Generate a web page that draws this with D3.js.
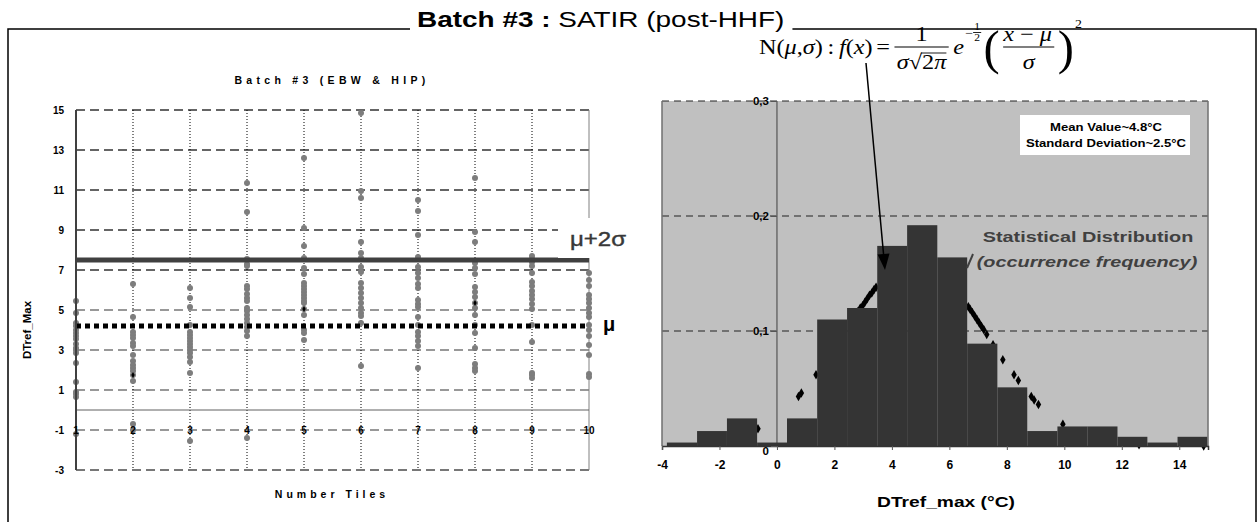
<!DOCTYPE html>
<html>
<head>
<meta charset="utf-8">
<script src="https://cdn.jsdelivr.net/npm/d3@7"></script>
<style>
  body { margin: 0; background: #fff; }
  svg { display: block; font-family: "Liberation Sans", Arial, sans-serif; }
</style>
</head>
<body>
<div class="main-container"></div>
<script>
const width = 1260, height = 522;

// left chart : DTref_Max read per tile
const tiles = [1, 2, 3, 4, 5, 6, 7, 8, 9, 10];
const tileValues = [
  [5.45, 4.85, 4.35, 4.2, 4.0, 3.85, 3.7, 3.55, 3.3, 3.1, 3.0, 2.85, 2.35, 1.4, 0.9, 0.8, 0.65, -1.2],
  [6.3, 4.65, 3.9, 3.75, 3.6, 3.35, 3.2, 2.75, 2.45, 2.25, 2.1, 1.95, 1.75, 1.45, -0.7, -1.0],
  [6.1, 5.6, 5.15, 4.25, 3.9, 3.75, 3.6, 3.45, 3.3, 3.15, 3.0, 2.85, 2.65, 2.4, 1.85, -1.55],
  [11.35, 9.9, 7.55, 7.3, 7.2, 6.2, 6.05, 5.8, 5.6, 5.45, 5.1, 4.95, 4.75, 4.55, 4.35, 4.15, 3.95, 3.7, -1.4],
  [12.6, 9.1, 8.2, 7.6, 7.1, 6.8, 6.35, 6.2, 6.05, 5.9, 5.75, 5.6, 5.45, 5.35, 5.05, 4.75, 4.0, 3.85, 3.5],
  [14.85, 10.95, 10.6, 8.4, 7.85, 7.6, 7.15, 6.9, 6.35, 6.1, 5.85, 5.6, 5.35, 5.1, 4.85, 4.7, 4.35, 2.2],
  [10.5, 9.95, 8.75, 7.65, 7.15, 6.85, 6.6, 6.3, 6.1, 5.5, 5.3, 5.15, 4.65, 4.25, 3.9, 3.7, 3.45, 3.2, 2.1],
  [11.6, 8.9, 8.4, 7.35, 7.1, 6.8, 6.15, 5.9, 5.65, 5.35, 5.1, 4.75, 4.25, 3.85, 3.1, 2.3, 2.1, 1.95],
  [7.7, 7.55, 7.4, 7.2, 6.85, 6.4, 6.2, 5.95, 5.75, 5.55, 5.3, 5.05, 4.25, 3.4, 1.85, 1.75, 1.6],
  [6.85, 6.5, 6.2, 5.75, 5.55, 5.35, 5.1, 4.85, 4.65, 4.25, 4.0, 3.7, 3.25, 2.75, 1.8, 1.65]
];
// a few darker marks sitting on top of the grey ones
const darkTiles = [2, 5, 8];
const darkValues = [1.75, 5.05, 5.35];
const leftYTicks = [-3, -1, 1, 3, 5, 7, 9, 11, 13, 15];
const meanValue = 4.2, upperValue = 7.5;

// right chart : histogram + normal fit
const binEdges = [-3.83, -2.78, -1.74, -0.69, 0.35, 1.40, 2.44, 3.49, 4.53, 5.58, 6.62,
                  7.67, 8.71, 9.76, 10.80, 11.85, 12.89, 13.94, 14.98];
const binFreq = [0.003, 0.013, 0.024, 0.003, 0.024, 0.110, 0.120, 0.174, 0.192, 0.164,
                 0.089, 0.051, 0.013, 0.017, 0.017, 0.008, 0.003, 0.008];
const fitX = [-0.66, 0.75, 0.85, 1.36, 2.3, 2.82, 2.9, 2.98, 3.06, 3.14, 3.22, 3.3, 3.38, 3.45,
              6.66, 6.72, 6.8, 6.88, 6.96, 7.04, 7.12, 7.2, 7.3, 7.52, 7.86, 8.25, 8.4,
              8.85, 8.95, 9.1, 9.95, 12.6, 14.85];
const fitY = [0.015, 0.043, 0.046, 0.062, 0.096, 0.117, 0.120, 0.122, 0.125, 0.128, 0.131, 0.133, 0.136, 0.138,
              0.121, 0.119, 0.116, 0.113, 0.110, 0.107, 0.104, 0.101, 0.097, 0.088, 0.075, 0.062, 0.057,
              0.043, 0.040, 0.036, 0.019, 0.001, 0.0];
const rightXTicks = [-4, -2, 0, 2, 4, 6, 8, 10, 12, 14];
const rightYTicks = [0, 0.1, 0.2, 0.3];

const svg = d3.select(".main-container")
  .append("svg")
  .attr("width", width)
  .attr("height", height);

// the source picture is stretched sideways, so text is widened to match
function stretch(sel, k) {
  const w = sel.node().getComputedTextLength();
  sel.attr("textLength", w * k).attr("lengthAdjust", "spacingAndGlyphs");
  return sel;
}

// ---------- page title + frame ----------
const title = svg.append("text")
  .attr("x", 417)
  .attr("y", 27)
  .attr("font-size", 22)
  .attr("fill", "#000");
title.append("tspan").attr("font-weight", "bold").text("Batch #3 :");
title.append("tspan").text(" SATIR (post-HHF)");
stretch(title, 1.27);
const titleEnd = 417 + title.node().getComputedTextLength();

const frame = svg.append("g").attr("stroke", "#000").attr("stroke-width", 1.5).attr("fill", "none");
frame.append("path").attr("d", `M8,${height}V29H410`);
frame.append("path").attr("d", `M${titleEnd + 8},29H1256V${height}`);

// ---------- left chart ----------
const xL = d3.scaleLinear().domain([1, 10]).range([76, 589]);
const yL = d3.scaleLinear().domain([-3, 15]).range([470, 110]);
const left = svg.append("g");

left.append("text")
  .attr("x", 332).attr("y", 84)
  .attr("text-anchor", "middle")
  .attr("font-size", 10.5).attr("font-weight", "bold")
  .attr("letter-spacing", 4.3)
  .text("Batch #3 (EBW & HIP)");

left.selectAll(".hgrid")
  .data(leftYTicks)
  .join("line")
  .attr("x1", xL(1)).attr("x2", xL(10))
  .attr("y1", d => yL(d)).attr("y2", d => yL(d))
  .attr("stroke", d => d >= 7 ? "#333" : "#777")
  .attr("stroke-width", d => d === -3 ? 2 : 1.3)
  .attr("stroke-dasharray", "9,5");

left.selectAll(".vgrid")
  .data(tiles.slice(1, 9))
  .join("line")
  .attr("x1", d => xL(d)).attr("x2", d => xL(d))
  .attr("y1", yL(15)).attr("y2", yL(-3))
  .attr("stroke", "#000")
  .attr("stroke-dasharray", "1,2");

left.append("line")
  .attr("x1", xL(10)).attr("x2", xL(10))
  .attr("y1", yL(15)).attr("y2", yL(-3))
  .attr("stroke", "#808080");

left.append("line")
  .attr("x1", xL(1)).attr("x2", xL(10))
  .attr("y1", yL(0)).attr("y2", yL(0))
  .attr("stroke", "#606060");

const pts = tileValues.flatMap((vals, i) => vals.map(v => ({tile: tiles[i], v})));
left.selectAll(".pt")
  .data(pts)
  .join("circle")
  .attr("cx", d => xL(d.tile))
  .attr("cy", d => yL(d.v))
  .attr("r", 3)
  .attr("fill", "#7d7d7d");

left.selectAll(".dark")
  .data(darkTiles.map((t, i) => ({tile: t, v: darkValues[i]})))
  .join("path")
  .attr("d", d3.symbol(d3.symbolDiamond, 10))
  .attr("transform", d => `translate(${xL(d.tile)},${yL(d.v)})`)
  .attr("fill", "#000");

left.append("line")
  .attr("x1", xL(1)).attr("x2", xL(10))
  .attr("y1", yL(upperValue)).attr("y2", yL(upperValue))
  .attr("stroke", "#404040")
  .attr("stroke-width", 5);

left.append("line")
  .attr("x1", xL(1)).attr("x2", xL(10))
  .attr("y1", yL(meanValue)).attr("y2", yL(meanValue))
  .attr("stroke", "#000")
  .attr("stroke-width", 5)
  .attr("stroke-dasharray", "5,4");

left.append("line")
  .attr("x1", xL(1)).attr("x2", xL(1))
  .attr("y1", yL(15)).attr("y2", yL(-3))
  .attr("stroke", "#404040")
  .attr("stroke-width", 2);

left.selectAll(".ylab")
  .data(leftYTicks)
  .join("text")
  .attr("x", 64)
  .attr("y", d => yL(d))
  .attr("dy", "0.35em")
  .attr("text-anchor", "end")
  .attr("font-size", 10).attr("font-weight", "bold")
  .text(d => d);

left.selectAll(".xlab")
  .data(tiles)
  .join("text")
  .attr("x", d => xL(d))
  .attr("y", yL(-1))
  .attr("dy", "0.35em")
  .attr("text-anchor", "middle")
  .attr("font-size", 10).attr("font-weight", "bold")
  .text(d => d);

left.append("text")
  .attr("transform", `translate(31,${yL(4)}) rotate(-90)`)
  .attr("text-anchor", "middle")
  .attr("font-size", 11.5).attr("font-weight", "bold")
  .text("DTref_Max");

left.append("text")
  .attr("x", 332).attr("y", 498)
  .attr("text-anchor", "middle")
  .attr("font-size", 10.5).attr("font-weight", "bold")
  .attr("letter-spacing", 4)
  .text("Number Tiles");

// labels on the right side of the scatter
left.append("rect")
  .attr("x", 558).attr("y", yL(9.6))
  .attr("width", 72).attr("height", 40)
  .attr("fill", "#fff");
stretch(left.append("text")
  .attr("x", 570).attr("y", yL(8.2))
  .attr("font-size", 20).attr("fill", "#383838")
  .attr("stroke", "#383838").attr("stroke-width", 0.4)
  .text("μ+2σ"), 1.2);
left.append("text")
  .attr("x", 603).attr("y", yL(meanValue) + 5)
  .attr("font-size", 20).attr("font-weight", "bold")
  .text("μ");

// ---------- right chart ----------
const xR = d3.scaleLinear().domain([-4, 15]).range([662, 1208]);
const yR = d3.scaleLinear().domain([0, 0.3]).range([446, 101]);
const right = svg.append("g");
const fmt = d => d === 0 ? "0" : d3.format(".1f")(d).replace(".", ",");

right.append("rect")
  .attr("x", xR(-4)).attr("y", yR(0.3))
  .attr("width", xR(15) - xR(-4)).attr("height", yR(0) - yR(0.3))
  .attr("fill", "#c0c0c0");

right.selectAll(".hgrid")
  .data(rightYTicks.slice(1))
  .join("line")
  .attr("x1", xR(-4)).attr("x2", xR(15))
  .attr("y1", d => yR(d)).attr("y2", d => yR(d))
  .attr("stroke", "#222")
  .attr("stroke-dasharray", "7,5");

right.append("line")
  .attr("x1", xR(0)).attr("x2", xR(0))
  .attr("y1", yR(0.3)).attr("y2", yR(0))
  .attr("stroke", "#6a6a6a")
  .attr("stroke-width", 1.5);

right.selectAll(".fit")
  .data(fitX.map((x, i) => ({x, y: fitY[i]})))
  .join("path")
  .attr("d", d3.symbol(d3.symbolDiamond, 26))
  .attr("transform", d => `translate(${xR(d.x)},${yR(d.y)})`)
  .attr("fill", "#000");

right.selectAll(".bar")
  .data(binFreq.map((f, i) => ({x0: binEdges[i], x1: binEdges[i + 1], f})))
  .join("rect")
  .attr("x", d => xR(d.x0))
  .attr("width", d => xR(d.x1) - xR(d.x0))
  .attr("y", d => yR(d.f))
  .attr("height", d => yR(0) - yR(d.f))
  .attr("fill", "#343434");

right.append("path")
  .attr("d", `M${xR(-4)},${yR(0)}V${yR(0.3)}M${xR(15)},${yR(0.3)}V${yR(0)}`)
  .attr("stroke", "#707070")
  .attr("stroke-width", 1.5)
  .attr("fill", "none");

// x axis
const xAxis = right.append("g")
  .attr("transform", `translate(0,${yR(0)})`)
  .call(d3.axisBottom(xR).tickValues(rightXTicks).tickSize(4).tickPadding(10).tickFormat(d => String(d)));
xAxis.select(".domain").attr("stroke", "#333").attr("stroke-width", 1.5);
xAxis.selectAll(".tick line").attr("stroke", "#555");
xAxis.selectAll(".tick text")
  .attr("font-size", 12).attr("font-weight", "bold")
  .attr("font-family", "'Liberation Sans', Arial, sans-serif")
  .attr("fill", "#000");

// y axis on the x = 0 line
const yAxis = right.append("g")
  .attr("transform", `translate(${xR(0)},0)`)
  .call(d3.axisLeft(yR).tickValues(rightYTicks).tickSize(6).tickPadding(2).tickFormat(fmt));
yAxis.select(".domain").remove();
yAxis.selectAll(".tick line").attr("stroke", "#555");
yAxis.selectAll(".tick text")
  .attr("font-size", 11.5).attr("font-weight", "bold")
  .attr("font-family", "'Liberation Sans', Arial, sans-serif")
  .attr("fill", "#000");
yAxis.selectAll(".tick").filter(d => d === 0).select("text").attr("dy", "0.75em");

stretch(right.append("text")
  .attr("x", 946).attr("y", 507)
  .attr("text-anchor", "middle")
  .attr("font-size", 15).attr("font-weight", "bold")
  .text("DTref_max (°C)"), 1.28);

// stats box
right.append("rect")
  .attr("x", 1020).attr("y", 115)
  .attr("width", 170).attr("height", 40)
  .attr("fill", "#fff");
stretch(right.append("text")
  .attr("x", 1106).attr("y", 131)
  .attr("text-anchor", "middle")
  .attr("font-size", 11.5).attr("font-weight", "bold")
  .text("Mean Value~4.8°C"), 1.14);
stretch(right.append("text")
  .attr("x", 1106).attr("y", 147)
  .attr("text-anchor", "middle")
  .attr("font-size", 11.5).attr("font-weight", "bold")
  .text("Standard Deviation~2.5°C"), 1.14);

// distribution label
stretch(right.append("text")
  .attr("x", 1088).attr("y", 242)
  .attr("text-anchor", "middle")
  .attr("font-size", 15.5).attr("font-weight", "bold")
  .attr("fill", "#404040")
  .text("Statistical Distribution"), 1.28);
stretch(right.append("text")
  .attr("x", 1087).attr("y", 267)
  .attr("text-anchor", "middle")
  .attr("font-size", 15.5).attr("font-weight", "bold").attr("font-style", "italic")
  .attr("fill", "#404040")
  .text("(occurrence frequency)"), 1.28);
right.append("line")
  .attr("x1", 973).attr("y1", 254)
  .attr("x2", 967).attr("y2", 268)
  .attr("stroke", "#404040").attr("stroke-width", 2);

// ---------- formula ----------
const fx0 = 759, fxEnd = 1082, fy = 54;
const fg = svg.append("g")
  .attr("font-family", "'Liberation Serif', 'Times New Roman', serif")
  .attr("font-size", 21)
  .attr("fill", "#000");

function seq(x, y, parts, size) {
  const t = fg.append("text").attr("x", x).attr("y", y);
  if (size) t.attr("font-size", size);
  parts.forEach(([s, it]) => t.append("tspan").attr("font-style", it ? "italic" : null).text(s));
  return t.node().getComputedTextLength();
}
function rule(x1, x2, y, w) {
  fg.append("line")
    .attr("x1", x1).attr("x2", x2)
    .attr("y1", y).attr("y2", y)
    .attr("stroke", "#000").attr("stroke-width", w || 1);
}

let cx = fx0;
cx += seq(cx, fy, [["N(", 0], ["μ", 1], [",", 0], ["σ", 1], [")", 0]]) + 4;
cx += seq(cx, fy, [[":", 0]]) + 4;
cx += seq(cx, fy, [["f", 1], ["(", 0], ["x", 1], [")", 0]]) + 3;
cx += seq(cx, fy, [["=", 0]]) + 4;

// 1 / (σ √2π)
const denW = seq(cx + 2, fy + 15, [["σ", 1], ["√", 0], ["2", 0], ["π", 1]]);
const sigTmp = fg.append("text").attr("font-style", "italic").text("σ√");
const sW = sigTmp.node().getComputedTextLength();
sigTmp.remove();
rule(cx + 2 + sW - 1, cx + 2 + denW, fy - 1, 0.9);
rule(cx, cx + denW + 4, fy - 7);
fg.append("text")
  .attr("x", cx + (denW + 4) / 2).attr("y", fy - 13)
  .attr("text-anchor", "middle").text("1");
cx += denW + 8;

// e^{-1/2 (...)^2}
cx += seq(cx, fy, [["e", 1]]) + 1;
cx += seq(cx, fy - 17, [["−", 0]], 12);
fg.append("text").attr("x", cx + 3.5).attr("y", fy - 24).attr("font-size", 10).attr("text-anchor", "middle").text("1");
rule(cx, cx + 7, fy - 21.5, 0.8);
fg.append("text").attr("x", cx + 3.5).attr("y", fy - 13).attr("font-size", 10).attr("text-anchor", "middle").text("2");
cx += 9;

const bigParen = (s, x) => fg.append("text")
  .attr("transform", `translate(${x},${fy + 10}) scale(1,1.15)`)
  .attr("font-size", 42)
  .text(s);
cx += bigParen("(", cx).node().getComputedTextLength() + 3;
const numW = seq(cx, fy - 13, [["x", 1], [" − ", 0], ["μ", 1]]);
rule(cx, cx + numW + 2, fy - 7);
fg.append("text")
  .attr("x", cx + (numW + 2) / 2).attr("y", fy + 15)
  .attr("text-anchor", "middle").attr("font-style", "italic").text("σ");
cx += numW + 5;
cx += bigParen(")", cx).node().getComputedTextLength() + 1;
cx += seq(cx, fy - 26, [["2", 0]], 12);

// widen the whole formula to the span it covers in the picture
const fk = (fxEnd - fx0) / (cx - fx0);
fg.attr("transform", `translate(${fx0},0) scale(${fk},1) translate(${-fx0},0)`);

// arrow from f(x) to the histogram
const arrowFrom = [866, 63], arrowTo = [885, 270];
const ang = Math.atan2(arrowTo[1] - arrowFrom[1], arrowTo[0] - arrowFrom[0]);
svg.append("line")
  .attr("x1", arrowFrom[0]).attr("y1", arrowFrom[1])
  .attr("x2", arrowTo[0] - 12 * Math.cos(ang)).attr("y2", arrowTo[1] - 12 * Math.sin(ang))
  .attr("stroke", "#000").attr("stroke-width", 1.5);
svg.append("path")
  .attr("d", "M0,0L-16,-6L-16,6Z")
  .attr("transform", `translate(${arrowTo[0]},${arrowTo[1]}) rotate(${ang * 180 / Math.PI})`)
  .attr("fill", "#000");
</script>
</body>
</html>
